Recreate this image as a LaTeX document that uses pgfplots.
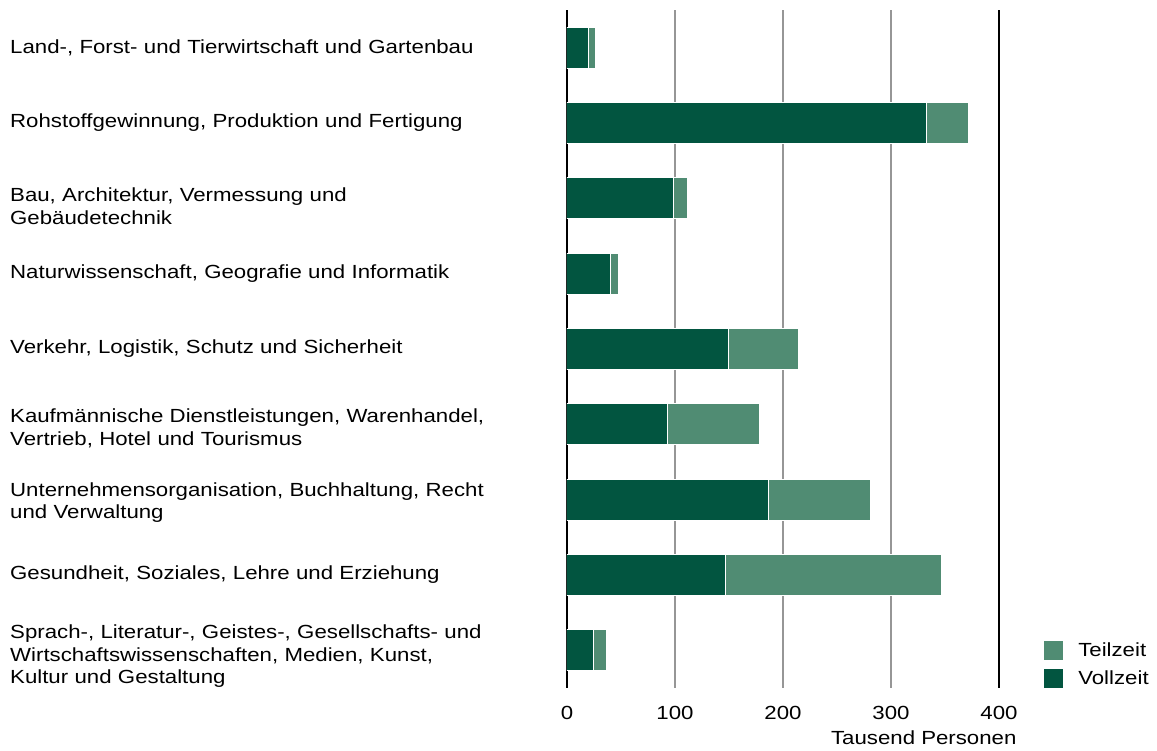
\documentclass[border=0pt]{standalone}
\usepackage{pgfplots}
\pgfplotsset{compat=1.18}
\usepackage{fontspec}
\setmainfont[FakeStretch=1.17]{Liberation Sans}
\definecolor{voll}{RGB}{2,85,64}
\definecolor{teil}{RGB}{80,140,115}
\definecolor{gridgray}{RGB}{150,150,150}
\begin{document}
\begin{tikzpicture}
\useasboundingbox (0pt,0pt) rectangle (1157pt,751pt);
\begin{axis}[
  at={(567pt,63pt)}, anchor=south west,
  scale only axis, width=432pt, height=678pt,
  xbar stacked, bar width=41pt,
  xmin=0, xmax=400, ymin=-0.5, ymax=8.5, y dir=reverse,
  axis line style={draw=none},
  major tick length=0pt,
  xtick={0,100,200,300,400},
  xmajorgrids, grid style={gridgray, line width=1.5pt},
  extra x ticks={0,400}, extra x tick labels={},
  extra x tick style={grid style={black, line width=1.6pt}},
  ytick={0,...,8},
  yticklabels={
    {Land-, Forst- und Tierwirtschaft und Gartenbau},
    {Rohstoffgewinnung, Produktion und Fertigung},
    {\rule{0pt}{30pt}Bau, Architektur, Vermessung und\\Gebäudetechnik},
    {Naturwissenschaft, Geografie und Informatik},
    {Verkehr, Logistik, Schutz und Sicherheit},
    {\rule{0pt}{22pt}Kaufmännische Dienstleistungen, Warenhandel,\\Vertrieb, Hotel und Tourismus},
    {\rule{0pt}{20pt}Unternehmensorganisation, Buchhaltung, Recht\\und Verwaltung},
    {Gesundheit, Soziales, Lehre und Erziehung},
    {\rule{0pt}{26pt}Sprach-, Literatur-, Geistes-, Gesellschafts- und\\Wirtschaftswissenschaften, Medien, Kunst,\\Kultur und Gestaltung}},
  yticklabel style={anchor=west, align=left, text width=540pt, inner sep=0pt, xshift=-557pt,
    font=\fontsize{19}{22.5}\selectfont},
  xticklabel style={font=\fontsize{19}{22}\selectfont, yshift=-15pt},
  /pgf/number format/assume math mode=true,
  xlabel={Tausend Personen},
  xlabel style={font=\fontsize{19}{22}\selectfont, at={(rel axis cs:1,0)}, anchor=north east, xshift=21pt, yshift=-39pt},
  legend style={at={(axis description cs:1.102,0.0715)}, anchor=north west, draw=none, fill=none,
    font=\fontsize{19}{22}\selectfont, row sep=7pt, inner sep=0pt,
    /tikz/every even column/.append style={column sep=0pt}},
  legend cell align=left,
  reverse legend,
  legend image code/.code={\fill[#1] (0pt,-10pt) rectangle (20pt,10pt);},
]
\addplot[fill=voll, draw=white, line width=1pt] coordinates {
 (20,0) (333,1) (99,2) (40,3) (150,4) (93,5) (187,6) (147,7) (25,8)};
\addlegendentry{\hspace{12pt}Vollzeit}
\addplot[fill=teil, draw=white, line width=1pt] coordinates {
 (6,0) (39,1) (13,2) (8,3) (64,4) (85,5) (94,6) (200,7) (12,8)};
\addlegendentry{\hspace{12pt}Teilzeit}
\end{axis}
\end{tikzpicture}
\end{document}
